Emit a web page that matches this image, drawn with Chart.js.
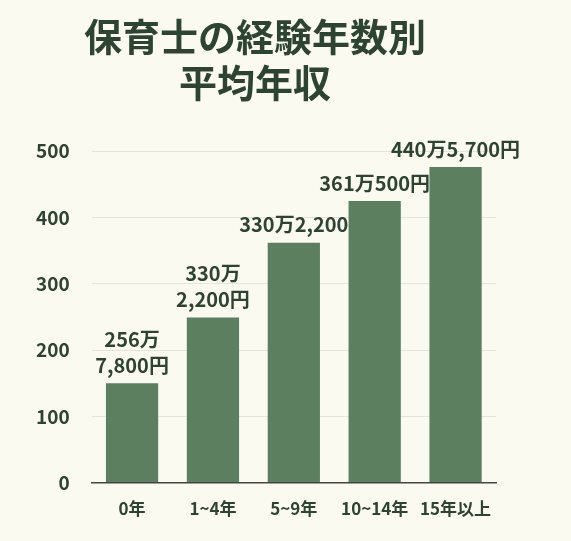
<!DOCTYPE html>
<html><head><meta charset="utf-8">
<script src="https://cdn.jsdelivr.net/npm/chart.js@4"></script>
<style>html,body{margin:0;background:#fbfaf1;}#w{width:571px;height:541px;}</style>
</head><body><div id="w"><canvas id="c"></canvas></div>
<script>
const categories = ["0年","1~4年","5~9年","10~14年","15年以上"];
const values = [150, 249, 362, 425, 476];
const valueLabels = [["256万","7,800円"],["330万","2,200円"],["330万2,200"],["361万500円"],["440万5,700円"]];
const yTicks = [0,100,200,300,400,500];
const green = "#5b7f5f", dark = "#2e4433";
const labelPlugin = {id:"lbl", afterDatasetsDraw(ch){
  const ctx = ch.ctx, meta = ch.getDatasetMeta(0);
  ctx.save(); ctx.fillStyle = dark; ctx.font = "bold 20px 'Noto Sans CJK JP'"; ctx.textAlign="center"; ctx.textBaseline="bottom";
  meta.data.forEach((b,i)=>{ const ls = valueLabels[i]; ls.forEach((t,j)=>{ ctx.fillText(t, b.x, b.y - 8 - (ls.length-1-j)*26); }); });
  ctx.restore();
}};
new Chart(document.getElementById("c"), {
  type:"bar",
  data:{labels:categories, datasets:[{data:values, backgroundColor:green, categoryPercentage:0.68, barPercentage:0.95}]},
  options:{responsive:true, maintainAspectRatio:false, animation:false,
    layout:{padding:{left:14,right:75,top:0,bottom:14}},
    plugins:{legend:{display:false}, tooltip:{enabled:false},
      title:{display:true, text:["保育士の経験年数別","平均年収"], color:dark, font:{family:"'Noto Sans CJK JP'", size:38, weight:"bold", lineHeight:1.2}, padding:{top:14,bottom:46}}},
    scales:{
      x:{grid:{display:false}, border:{color:"#444",width:1.5}, ticks:{color:dark, font:{family:"'Noto Sans CJK JP'", size:17, weight:"bold"}, padding:8}},
      y:{min:0,max:500, afterBuildTicks(a){a.ticks=yTicks.map(v=>({value:v}));}, grid:{color:"#e4e4da", drawTicks:false}, border:{display:false},
        ticks:{color:dark, padding:22, font:{family:"'Noto Sans CJK JP'", size:19, weight:"bold"}}}
    }},
  plugins:[labelPlugin]
});
</script></body></html>
